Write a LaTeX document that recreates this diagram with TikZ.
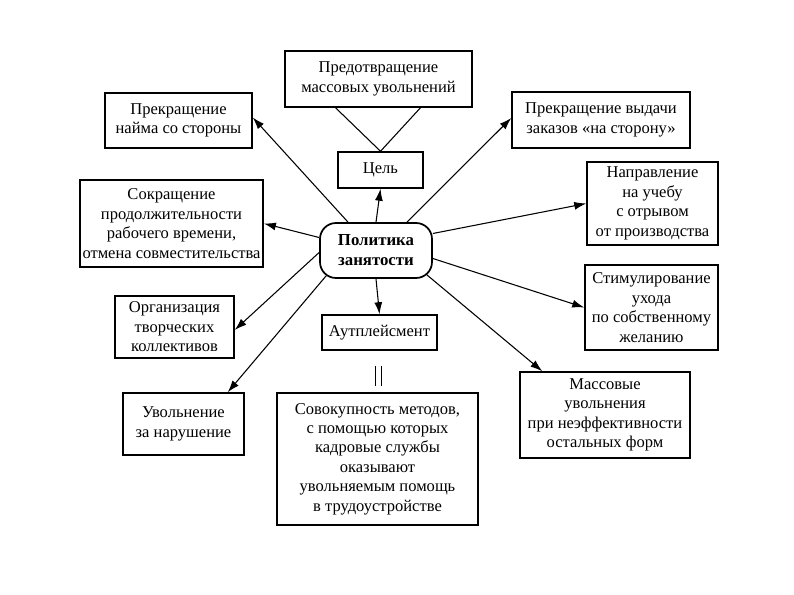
\documentclass[tikz,border=0pt]{standalone}
\usepackage{fontspec}
\setmainfont{Liberation Serif}
\usepackage{tikz}
\usetikzlibrary{arrows.meta,calc}

\begin{document}
\begin{tikzpicture}[
  x=0.75pt, y=-0.75pt,
  font=\fontsize{12.4}{14.6}\selectfont,
  box size/.style 2 args={minimum width=0.75*#1pt, minimum height=0.75*#2pt},
  item/.style={draw, line width=1.1pt, align=center, inner sep=2pt},
  hub/.style={draw, line width=1.3pt, rounded corners=12pt, align=center,
              font=\fontsize{12.6}{15}\selectfont\bfseries},
  map/.style={-{Latex[length=9pt,width=6pt]}, line width=0.8pt}
]
  \useasboundingbox (0,0) rectangle (794,595);

  % Centre.
  \node[hub, box size={112}{55}] (policy) at (376,250.5)
    {Политика\\занятости};

  % Goal and its content.
  \node[item, box size={187}{56}] (prevent) at (378.5,79)
    {Предотвращение\\массовых увольнений};
  \node[item, box size={85}{36}] (goal) at (380.5,170) {Цель};
  \draw[line width=0.8pt] ($(prevent.south)+(-43,0)$) -- (goal.north)
    -- ($(prevent.south)+(42,0)$);

  % Left column.
  \node[item, box size={147}{55}] (hire-stop) at (178.5,120.5)
    {Прекращение\\найма со стороны};
  \node[item, box size={183}{87}] (shorten) at (171.5,223.5)
    {Сокращение\\продолжительности\\рабочего времени,\\отмена совместительства};
  \node[item, box size={119}{62}] (teams) at (174.5,327)
    {Организация\\творческих\\коллективов};
  \node[item, box size={121}{62}] (dismiss) at (183.5,424)
    {Увольнение\\за нарушение};

  % Right column.
  \node[item, box size={178}{56}] (outsource-stop) at (601,120)
    {Прекращение выдачи\\заказов «на сторону»};
  \node[item, box size={131}{83}] (training) at (652.5,203.5)
    {Направление\\на учебу\\с отрывом\\от производства};
  \node[item, box size={133}{85}] (voluntary) at (651.5,307.5)
    {Стимулирование\\ухода\\по собственному\\желанию};
  \node[item, box size={170}{86}] (mass) at (605,415)
    {Массовые\\увольнения\\при неэффективности\\остальных форм};

  % Outplacement.
  \node[item, box size={115}{35}] (outplace) at (379.5,332.5)
    {Аутплейсмент};
  \node[item, box size={201}{132}] (methods) at (377.5,459)
    {Совокупность методов,\\с помощью которых\\кадровые службы\\оказывают\\увольняемым помощь\\в трудоустройстве};
  \draw[line width=0.9pt] ($(outplace.south)+(-4,15)$) -- ($(outplace.south)+(-4,35)$);
  \draw[line width=0.9pt] ($(outplace.south)+(2,15)$) -- ($(outplace.south)+(2,35)$);

  % Arrows out of the centre.
  \draw[map] (policy.north) -- (goal.south);
  \draw[map] ($(policy.north)+(-28,0)$) -- ($(hire-stop.east)+(0,-3)$);
  \draw[map] ($(policy.north)+(31,0)$) -- ($(outsource-stop.west)+(0,-2)$);
  \draw[map] ($(policy.east)+(0,-17)$) -- (training.west);
  \draw[map] ($(policy.west)+(0,-13)$) -- (shorten.east);
  \draw[map] ($(policy.west)+(0,2)$) -- ($(teams.east)+(0,3)$);
  \draw[map] ($(policy.south west)+(7,-3)$) -- ($(dismiss.north east)+(-17,0)$);
  \draw[map] (policy.south) -- (outplace.north);
  \draw[map] ($(policy.east)+(0,8)$) -- (voluntary.west);
  \draw[map] ($(policy.south east)+(-6,-4)$) -- ($(mass.north west)+(23,0)$);
\end{tikzpicture}
\end{document}
